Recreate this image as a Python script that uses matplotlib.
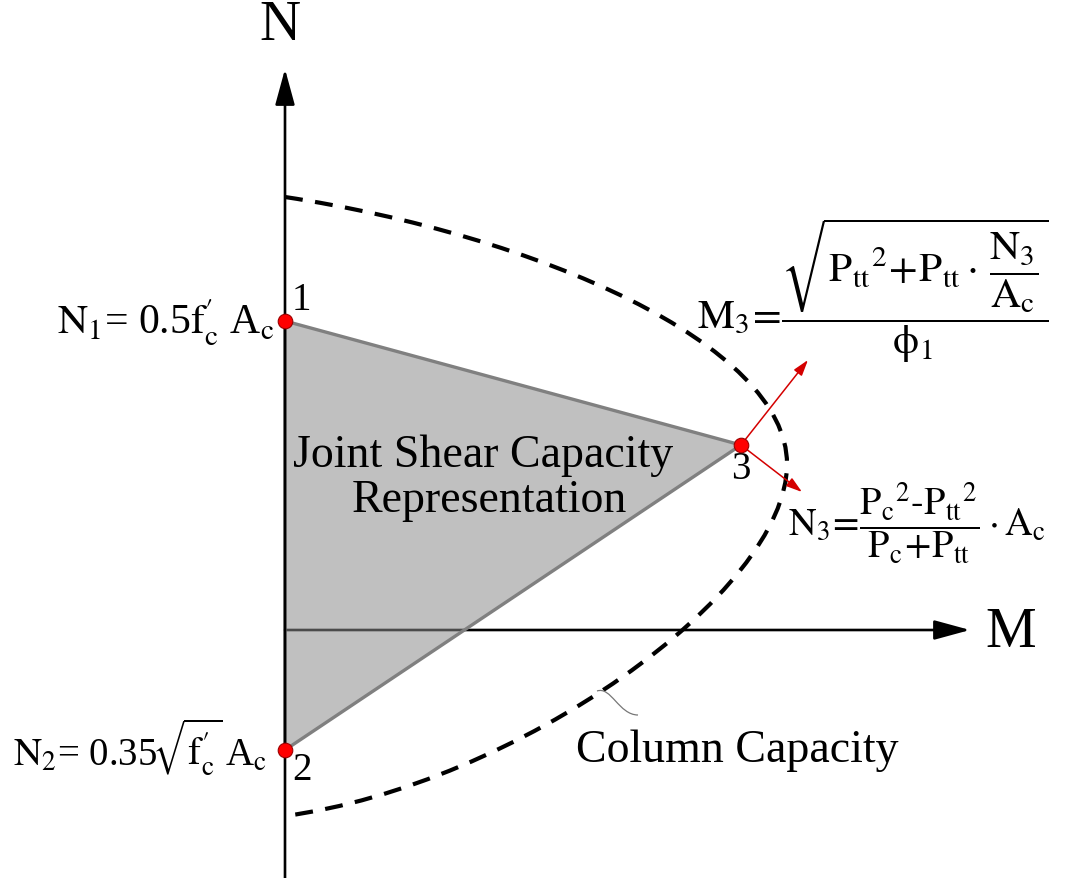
import matplotlib
matplotlib.use("Agg")
import matplotlib.pyplot as plt
from matplotlib.path import Path
from matplotlib.patches import PathPatch, Polygon

plt.rcParams["font.family"] = ["Liberation Serif", "DejaVu Serif"]
plt.rcParams["mathtext.fontset"] = "stix"

# joint shear capacity triangle, points 1, 3, 2 (M, N)
joint_M = [0, 456, 0]
joint_N = [309, 185, -120]
joint_labels = ["1", "3", "2"]

# column capacity curve: two cubic Bezier segments (start, ctrl, ctrl, end, ctrl, ctrl, end)
cap_M = [0, 250, 502, 502, 502, 230, 0]
cap_N = [433, 395, 286, 166, 36, -155, -186]

# axis extents
n_axis = [-248, 561]
m_axis = [0, 685]

# direction arrows from point 3
arrow_M = [523, 517]
arrow_N = [270, 138]

# leader line for "Column Capacity"
lead_M = [312, 326, 334, 353]
lead_N = [-61, -56, -85, -85]


def main():
    fig = plt.figure(figsize=(10.71, 8.79), dpi=100)
    ax = fig.add_axes([0, 0, 1, 1])
    ax.set_xlim(-285, 786)
    ax.set_ylim(-248, 631)
    ax.axis("off")

    # axes
    ax.annotate("", xy=(m_axis[1], 0), xytext=(m_axis[0], 0),
                arrowprops=dict(arrowstyle="-|>,head_length=1.1,head_width=0.3",
                                lw=1.9, color="black", mutation_scale=20,
                                shrinkA=0, shrinkB=0), zorder=1)
    ax.annotate("", xy=(0, n_axis[1]), xytext=(0, n_axis[0]),
                arrowprops=dict(arrowstyle="-|>,head_length=1.1,head_width=0.3",
                                lw=1.9, color="black", mutation_scale=20,
                                shrinkA=0, shrinkB=0), zorder=4)
    ax.text(-5, 605, "N", fontsize=41, ha="center", va="center")
    ax.text(726, -2, "M", fontsize=41, ha="center", va="center")

    # triangle
    tri = Polygon(list(zip(joint_M, joint_N)), closed=True,
                  facecolor="#8b8b8b", alpha=0.54, edgecolor="none", zorder=2)
    ax.add_patch(tri)
    ax.add_patch(Polygon(list(zip(joint_M, joint_N)), closed=True,
                         facecolor="none", edgecolor="#808080", lw=2.4, zorder=3))

    # column capacity curve
    codes = [Path.MOVETO] + [Path.CURVE4] * 6
    cap = Path(list(zip(cap_M, cap_N)), codes)
    ax.add_patch(PathPatch(cap, facecolor="none", edgecolor="black", lw=3,
                           linestyle=(0, (4.3, 3)), zorder=3))

    lead = Path(list(zip(lead_M, lead_N)), [Path.MOVETO] + [Path.CURVE4] * 3)
    ax.add_patch(PathPatch(lead, facecolor="none", edgecolor="#777777", lw=0.9, zorder=3))

    # red direction arrows
    for am, an in zip(arrow_M, arrow_N):
        ax.annotate("", xy=(am, an), xytext=(joint_M[1], joint_N[1]),
                    arrowprops=dict(arrowstyle="-|>,head_length=0.8,head_width=0.25",
                                    lw=1.1, color="#d40000", mutation_scale=12,
                                    shrinkA=0, shrinkB=0), zorder=5)

    ax.scatter(joint_M, joint_N, s=110, color="#ff0000", edgecolor="#9a0000",
               linewidth=0.8, zorder=6)

    ax.text(16, 331, joint_labels[0], fontsize=28, ha="center", va="center")
    ax.text(456, 161, joint_labels[1], fontsize=28, ha="center", va="center")
    ax.text(17, -140, joint_labels[2], fontsize=28, ha="center", va="center")

    ax.text(198, 164, "Joint Shear Capacity", fontsize=33, ha="center", va="baseline", zorder=7)
    ax.text(204, 119, "Representation", fontsize=33, ha="center", va="baseline", zorder=7)
    ax.text(452, -131, "Column Capacity", fontsize=33, ha="center", va="baseline")

    ax.text(-10, 296,
            r"$\mathrm{N_1}$= 0.5$\mathrm{f}^{\prime}_{\mathrm{c}}$ A$_{\mathrm{c}}$",
            fontsize=30, ha="right", va="baseline")
    ax.text(-18, -134,
            r"$\mathrm{N_2}$= 0.35$\!\sqrt{\mathrm{f}^{\prime}_{\mathrm{c}}}\!$ A$_{\mathrm{c}}$",
            fontsize=28, ha="right", va="baseline")

    ax.text(412, 340,
            r"$\mathrm{M_3}\!=\!\dfrac{\sqrt{\mathrm{P_{tt}}^{2}\!+\!\mathrm{P_{tt}}\cdot\,\dfrac{\mathrm{N_3}}{\mathrm{A_c}}}}{\mathrm{\phi}_1}$",
            fontsize=30, ha="left", va="center")
    ax.text(503, 108,
            r"$\mathrm{N_3}\!=\!\dfrac{\mathrm{P_c}^{2}\text{-}\mathrm{P_{tt}}^{2}}{\mathrm{P_c}\!+\!\mathrm{P_{tt}}}\cdot\mathrm{A_c}$",
            fontsize=27.5, ha="left", va="center")

    fig.savefig("out.png", dpi=100)


if __name__ == "__main__":
    main()
